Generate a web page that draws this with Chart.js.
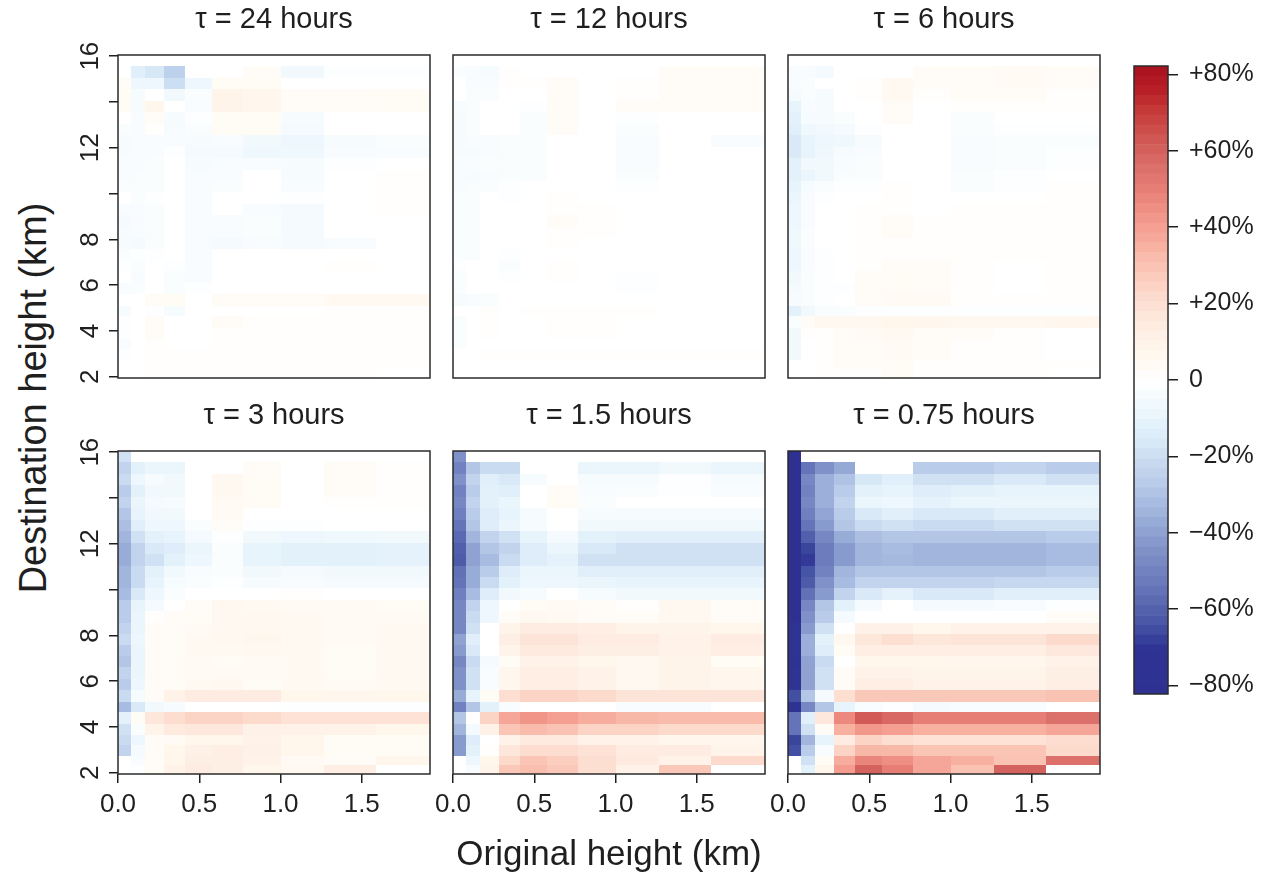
<!DOCTYPE html>
<html>
<head>
<meta charset="utf-8">
<script src="https://cdn.jsdelivr.net/npm/chart.js@4.4.0/dist/chart.umd.min.js"></script>
<style>
  body { margin: 0; background: #fff; width: 1270px; height: 875px; position: relative; overflow: hidden;
         font-family: "Liberation Sans", Arial, sans-serif; color: #1f1f1f; }
  canvas { position: absolute; }
  #ytitle { position: absolute; left: 33px; top: 398px; white-space: nowrap; font-size: 38px;
            transform: translate(-50%, -50%) rotate(-90deg); }
</style>
</head>
<body>
<div id="ytitle">Destination height (km)</div>
<script>
// bin edges (km)
const xEdges = [0, 0.08, 0.165, 0.28, 0.415, 0.58, 0.77, 1.0, 1.27, 1.59, 1.92];
const yEdges = [16.05, 15.58, 15.05, 14.55, 14.05, 13.55, 13.05, 12.55, 12.05, 11.55, 11.05, 10.55, 10.05, 9.55, 9.05,
                8.55, 8.05, 7.6, 7.1, 6.6, 6.1, 5.6, 5.1, 4.65, 4.15, 3.65, 3.2, 2.75, 2.35, 1.95];
const xTicks = [0, 0.5, 1.0, 1.5];
const yTicks = [2, 4, 6, 8, 10, 12, 14, 16];
const yTickLabels = [2, 4, 6, 8, 12, 16];
const colorTicks = [-80, -60, -40, -20, 0, 20, 40, 60, 80];
const panelTitles = ['τ = 24 hours', 'τ = 12 hours', 'τ = 6 hours', 'τ = 3 hours', 'τ = 1.5 hours', 'τ = 0.75 hours'];

// % change, rows from top (16 km) down to 2 km, columns = original height bins
const tau24 = [
  [0, null, null, null, null, null, null, null, null, null],
  [0, -13, -17, -25, null, null, 2, -6, -1, -1],
  [2, -8, -8, -20, -8, 3, 3, 0, 0, 0],
  [3, -4, 0, -6, -2, 9, 7, 2, 2, 3],
  [3, -4, 8, 0, -3, 9, 7, 2, 2, 3],
  [0, -3, 2, -4, -1, 3, 3, -4, 0, 0],
  [-2, -3, 1, -4, -2, 3, 3, -5, 0, 0],
  [-4, -3, -3, -3, -4, -3, -6, -8, -4, -2],
  [-4, -3, -3, -1, -5, -5, -7, -7, -3, -3],
  [-3, -3, -2, 0, -4, -3, -3, -4, -1, 0],
  [-3, -2, -2, 0, -3, -3, 0, -4, 0, 1],
  [-2, -2, -2, 0, -3, -2, 0, -3, 0, 1],
  [0, -2, -1, 0, -3, 0, 0, -1, 0, 1],
  [-3, -3, -2, 0, -3, 0, -3, -5, 0, 1],
  [-5, -3, -2, 0, -3, -3, -2, -5, 0, 0],
  [-4, -3, -2, 0, -3, -3, -2, -5, 0, 0],
  [-4, -5, -2, 0, -3, -5, -3, -5, -3, 0],
  [-2, -1, -1, 0, -3, 0, 0, 0, 0, 0],
  [-1, -2, 0, -1, -3, 0, 0, 0, 1, 0],
  [0, -3, 0, -2, -3, 0, 0, 0, 0, 0],
  [-3, -2, 0, -2, -1, 0, 0, 0, 0, 0],
  [0, 0, 3, 3, 0, 2, 2, 2, 5, 5],
  [-4, 0, -1, -4, 0, 0, 0, 0, 1, 1],
  [-1, 0, 2, 0, 0, 2, 1, 1, 1, 1],
  [-1, 0, 2, 0, 0, 1, 1, 1, 1, 1],
  [-3, 0, 1, 0, 0, 1, 1, 1, 1, 1],
  [-1, 0, 1, 1, 1, 1, 1, 1, 1, 1],
  [null, 0, 1, 1, 1, 1, 1, 1, 1, 1],
  [null, 0, 1, 1, 1, 1, 1, 1, 1, null]
];
const tau12 = [
  [0, null, null, null, null, null, null, null, null, null],
  [-2, -3, -4, 1, null, null, 0, 0, 2, 2],
  [0, -3, -3, 1, 1, 2, 0, 1, 2, 2],
  [0, -2, -2, 0, 0, 2, 0, 1, 2, 2],
  [-3, -2, 0, 0, -1, 2, 0, 2, 2, 2],
  [-4, -2, 0, 0, -2, 2, 0, -1, 0, 0],
  [-4, -2, 0, 0, -2, 2, 0, -2, 0, 0],
  [-4, -3, -3, -2, -2, 0, 0, -3, 0, -3],
  [-4, -4, -3, -2, -2, 0, 0, -3, 0, 0],
  [-3, -3, -2, -2, -2, 0, 0, -3, 0, 0],
  [-3, -4, -3, -2, -2, 0, 0, -2, 0, 0],
  [-3, -2, -2, -1, 0, 0, 0, -1, 0, 0],
  [-2, -2, 0, -1, 0, 1, 0, 0, 0, 0],
  [-2, -2, 0, 0, 0, 1, 1, 0, 0, 0],
  [-2, -2, 0, 0, 0, 2, 1, 0, 0, 0],
  [-2, -2, 0, 0, 0, 1, 1, 0, 0, 0],
  [-2, -2, 0, 0, 0, 1, 0, 0, 0, 0],
  [-2, -2, 0, -1, 0, 0, 0, 0, 0, 0],
  [-1, 0, 0, -2, 0, 1, 0, 0, 0, 0],
  [-2, 0, 0, -1, 0, 1, 0, -1, 0, 0],
  [-2, 0, 0, 0, 0, 0, 0, -1, 0, 0],
  [-4, -3, -2, 0, 0, 0, 0, 0, 0, 0],
  [0, 0, 1, 0, 1, 1, 1, 1, 0, 0],
  [-2, 0, 1, 0, 0, 1, 1, 0, 0, 0],
  [-2, 0, 1, 0, 0, 1, 1, 0, 0, 0],
  [-2, 0, 0, 0, 0, 0, 0, 0, 0, 0],
  [0, 0, 1, 1, 1, 1, 1, 1, 1, 1],
  [null, 0, 0, 0, 0, 0, 0, 0, 0, 0],
  [null, 0, 0, 0, 0, 0, 0, 0, 0, null]
];
const tau6 = [
  [0, null, null, null, null, null, null, null, null, null],
  [-3, -3, -5, 0, null, null, 2, 2, 4, 2],
  [-3, -2, 0, 0, 1, 5, 2, 2, 4, 2],
  [-5, -2, -4, 0, 1, 5, 1, 2, 2, 1],
  [-10, -3, -4, 0, 0, 2, 0, 1, 1, 1],
  [-12, -4, -4, -2, 0, 2, 0, -2, 0, 0],
  [-13, -7, -6, -5, -1, 0, 0, -2, -1, -1],
  [-16, -10, -8, -7, -4, 0, 0, -3, -2, -2],
  [-16, -10, -7, -4, -3, 0, 0, -3, -2, -1],
  [-12, -6, -6, -3, -2, 0, 0, -3, -2, -1],
  [-12, -9, -6, -2, -2, 0, 0, -2, -1, 0],
  [-10, -4, -2, -1, -1, 1, 0, -2, -1, 1],
  [-9, -3, -1, 0, 0, 1, 0, 0, 0, 1],
  [-8, -3, 0, 0, 1, 1, 0, 1, 1, 1],
  [-8, -3, 0, 0, 1, 2, 1, 1, 1, 1],
  [-7, -2, 0, 0, 1, 2, 1, 1, 1, 1],
  [-7, -2, 0, 0, 1, 1, 1, 1, 1, 1],
  [-8, -3, -1, 0, 1, 1, 1, 1, 1, 1],
  [-8, -3, -1, 0, 1, 2, 2, 1, 0, 1],
  [-6, -2, -1, 0, 2, 3, 2, 1, 0, 1],
  [-5, -2, -1, -1, 2, 3, 2, 1, 0, 1],
  [-4, -2, -1, 0, 2, 4, 4, 1, 1, 1],
  [-12, -6, -2, -2, -1, -1, -1, -1, -1, -1],
  [-2, 2, 6, 6, 6, 8, 7, 6, 6, 7],
  [-6, 1, 1, 2, 4, 5, 2, 2, 1, 0],
  [-6, 0, 1, 2, 2, 4, 2, 1, 1, 0],
  [-6, 0, 1, 2, 2, 4, 2, 1, 1, 0],
  [null, 0, 1, 2, 2, 3, 1, 1, 1, 1],
  [null, 0, 1, 1, 1, 3, 1, 1, 1, null]
];
const tau3 = [
  [-19, null, null, null, null, null, null, null, null, null],
  [-24, -12, -9, -9, null, null, 2, 0, 2, 1],
  [-21, -8, -4, -6, 0, 6, 3, 0, 2, 1],
  [-27, -12, -6, -6, 0, 6, 3, 0, 2, 1],
  [-24, -9, -5, -4, 0, 4, 3, 0, 1, 1],
  [-29, -10, -6, -6, 0, 4, 0, 0, 0, 0],
  [-31, -13, -8, -8, -2, 2, -1, -1, 0, 0],
  [-34, -19, -12, -10, -5, -1, -6, -8, -7, -6],
  [-37, -24, -16, -14, -9, -2, -10, -12, -12, -11],
  [-37, -24, -19, -12, -8, -2, -10, -12, -12, -11],
  [-34, -21, -12, -6, -3, -2, -6, -5, -6, -6],
  [-34, -21, -10, -4, -2, -1, -4, -3, -5, -5],
  [-32, -16, -8, -2, 0, 0, 0, 1, 0, 0],
  [-27, -10, -5, 0, 2, 6, 5, 4, 4, 3],
  [-27, -9, 1, 2, 3, 6, 6, 5, 4, 4],
  [-24, -9, 2, 2, 4, 6, 6, 5, 4, 5],
  [-21, -8, 2, 3, 5, 6, 7, 5, 4, 5],
  [-27, -9, 2, 3, 5, 5, 6, 5, 3, 5],
  [-29, -9, 2, 3, 4, 3, 4, 5, 3, 5],
  [-24, -9, 2, 3, 4, 4, 4, 5, 3, 5],
  [-27, -8, 2, 3, 5, 6, 3, 5, 4, 5],
  [-21, -4, 2, 10, 14, 14, 14, 8, 7, 8],
  [-32, -16, -6, -4, 0, 0, 0, -1, -1, -1],
  [-12, 3, 17, 21, 24, 24, 22, 19, 19, 19],
  [-19, -2, 9, 15, 16, 16, 11, 10, 10, 8],
  [-21, -8, 2, 4, 8, 8, 10, 8, 3, 3],
  [-24, -5, 2, 8, 11, 13, 11, 8, 3, 3],
  [null, -3, 2, 8, 12, 12, 10, 4, 2, 8],
  [null, -1, 3, 10, 14, 12, 8, 5, 13, null]
];
const tau1_5 = [
  [-45, null, null, null, null, null, null, null, null, null],
  [-50, -29, -21, -21, null, null, -9, -9, -6, -9],
  [-45, -24, -13, -16, -4, 0, -4, -4, -1, -4],
  [-50, -27, -12, -13, 0, 2, -3, -2, -1, -3],
  [-48, -24, -12, -9, 0, 3, -2, 0, 0, 0],
  [-51, -27, -14, -10, -4, 0, -4, -4, -4, -4],
  [-55, -29, -14, -9, -4, 0, -6, -6, -6, -6],
  [-58, -34, -24, -19, -10, -5, -12, -13, -13, -13],
  [-61, -40, -29, -24, -14, -9, -16, -19, -19, -19],
  [-62, -40, -32, -21, -14, -11, -19, -19, -19, -19],
  [-56, -37, -27, -14, -9, -9, -13, -13, -13, -13],
  [-55, -37, -21, -12, -8, -8, -9, -10, -10, -10],
  [-51, -32, -14, -6, -4, 0, -4, -6, -6, -6],
  [-48, -24, -8, 0, 3, 4, 2, 1, 6, 2],
  [-48, -21, -8, 2, 6, 5, 2, 2, 6, 2],
  [-48, -19, 0, 9, 14, 14, 13, 9, 9, 8],
  [-40, -13, 0, 12, 18, 18, 14, 14, 10, 14],
  [-42, -16, 0, 9, 15, 15, 12, 12, 10, 13],
  [-48, -21, -5, 3, 10, 10, 8, 6, 9, 3],
  [-45, -19, -3, 7, 13, 13, 10, 6, 9, 7],
  [-45, -19, -3, 7, 13, 13, 10, 6, 9, 7],
  [-37, -10, 3, 20, 24, 24, 22, 18, 18, 18],
  [-50, -29, -12, -3, 0, 0, 0, -3, -3, 0],
  [-29, 1, 24, 38, 43, 40, 36, 33, 32, 32],
  [-34, -5, 11, 29, 32, 30, 24, 24, 22, 22],
  [-42, -14, 0, 10, 15, 15, 10, 10, 7, 7],
  [-42, -12, 1, 17, 21, 21, 19, 14, 14, 9],
  [null, -8, 8, 22, 29, 26, 20, 15, 10, 22],
  [null, -3, 9, 28, 31, 28, 20, 10, 28, null]
];
const tau0_75 = [
  [-82, null, null, null, null, null, null, null, null, null],
  [-82, -55, -45, -38, null, null, -27, -27, -24, -27],
  [-82, -48, -36, -30, -17, -13, -19, -19, -16, -19],
  [-82, -50, -36, -27, -12, -10, -14, -12, -10, -10],
  [-82, -48, -36, -24, -9, -8, -11, -9, -9, -9],
  [-82, -51, -39, -27, -16, -13, -16, -16, -13, -13],
  [-82, -55, -42, -29, -21, -19, -21, -21, -19, -19],
  [-82, -61, -48, -37, -31, -29, -29, -29, -29, -27],
  [-82, -67, -52, -42, -34, -32, -34, -34, -34, -32],
  [-82, -69, -52, -42, -34, -33, -34, -34, -34, -32],
  [-82, -64, -50, -34, -29, -29, -29, -29, -29, -27],
  [-82, -62, -45, -32, -24, -24, -24, -24, -22, -22],
  [-82, -56, -42, -24, -16, -11, -16, -16, -13, -13],
  [-82, -48, -29, -12, -5, 0, -5, -5, -3, -1],
  [-80, -45, -27, -5, 0, 0, 0, 0, 0, 2],
  [-72, -42, -19, 0, 11, 11, 8, 10, 10, 10],
  [-70, -36, -12, 6, 17, 20, 17, 18, 18, 22],
  [-70, -36, -14, 3, 13, 13, 13, 13, 13, 16],
  [-78, -40, -21, 0, 8, 8, 8, 7, 7, 10],
  [-72, -40, -19, 2, 10, 10, 9, 9, 9, 12],
  [-72, -40, -19, 2, 13, 13, 10, 10, 10, 13],
  [-65, -29, -5, 20, 28, 28, 28, 28, 28, 30],
  [-78, -48, -29, -10, -3, -1, -5, -3, -3, 0],
  [-55, -13, 16, 47, 62, 58, 50, 50, 50, 55],
  [-55, -19, 2, 35, 42, 40, 35, 35, 35, 38],
  [-67, -34, -10, 14, 24, 20, 19, 19, 19, 21],
  [-65, -27, -3, 24, 33, 33, 29, 29, 29, 22],
  [null, -19, 3, 36, 48, 45, 38, 35, 30, 55],
  [null, -12, 8, 41, 60, 50, 38, 30, 60, null]
];

const INK = '#1f1f1f';
Chart.defaults.font.family = '"Liberation Sans", Arial, sans-serif';
Chart.defaults.color = INK;

// diverging palette
const stops = [
  [-82, '#2e3192'], [-70, '#2f3393'], [-67, '#3a469c'], [-64, '#4654a5'], [-59, '#5866b0'], [-54, '#6877ba'],
  [-48, '#7787c3'], [-43, '#8597cc'], [-38, '#95a9d6'], [-33, '#a5b9df'], [-28, '#b6c9e8'], [-22, '#c6d8ef'],
  [-17, '#d6e7f6'], [-12, '#e3f1fb'], [-7, '#eff8fd'], [0, '#ffffff'], [3, '#fffbf5'], [8, '#fff6ec'],
  [13.5, '#feede3'], [18.6, '#fde3d6'], [23.8, '#fcd5c7'], [29, '#fac5b5'], [34.2, '#f8b4a4'], [39.4, '#f5a193'],
  [44.6, '#f09085'], [49.8, '#e77f76'], [55, '#dc716b'], [60.2, '#d4615d'], [65.3, '#cd4e4b'], [70.5, '#c53a3a'],
  [75.7, '#b91f27'], [82, '#a8101d']
];
function hexRgb(h) { return [1, 3, 5].map(i => parseInt(h.substr(i, 2), 16)); }
function rampColor(v) {
  if (v <= stops[0][0]) return stops[0][1];
  for (let i = 1; i < stops.length; i++) {
    if (v <= stops[i][0]) {
      const [v0, c0] = stops[i - 1], [v1, c1] = stops[i];
      const t = (v - v0) / (v1 - v0), a = hexRgb(c0), b = hexRgb(c1);
      return 'rgb(' + a.map((x, k) => Math.round(x + (b[k] - x) * t)).join(',') + ')';
    }
  }
  return stops[stops.length - 1][1];
}

const heatmapPlugin = {
  id: 'heatmap',
  beforeDatasetsDraw(chart) {
    const {ctx, chartArea: a, scales: {x, y}} = chart;
    ctx.save();
    ctx.beginPath(); ctx.rect(a.left, a.top, a.width, a.height); ctx.clip();
    for (const d of chart.data.datasets[0].data) {
      const l = Math.round(x.getPixelForValue(d.x0)), r = Math.round(x.getPixelForValue(d.x1));
      const t = Math.round(y.getPixelForValue(d.y1)), b = Math.round(y.getPixelForValue(d.y0));
      ctx.fillStyle = rampColor(d.v);
      ctx.fillRect(l, t, r - l, b - t);
    }
    ctx.restore();
  }
};
const boxPlugin = {
  id: 'box',
  afterDraw(chart) {
    const {ctx, chartArea: a} = chart;
    ctx.save();
    ctx.strokeStyle = '#2b2b2b'; ctx.lineWidth = 1.5;
    ctx.strokeRect(a.left, a.top, a.width, a.height);
    ctx.restore();
  }
};
// R-style y labels, parallel to the axis
const yLabelPlugin = {
  id: 'ylabels',
  afterDraw(chart) {
    const {ctx, chartArea: a, scales: {y}} = chart;
    ctx.save();
    ctx.fillStyle = INK;
    ctx.font = '26px "Liberation Sans", Arial, sans-serif';
    ctx.textAlign = 'center'; ctx.textBaseline = 'bottom';
    for (const v of yTickLabels) {
      ctx.save();
      ctx.translate(a.left - 14, y.getPixelForValue(v));
      ctx.rotate(-Math.PI / 2);
      ctx.fillText(String(v), 0, 0);
      ctx.restore();
    }
    ctx.restore();
  }
};

const PW = 312, PH = 323;
const panelSlots = [[118, 55], [453, 55], [788, 55], [118, 451], [453, 451], [788, 451]];
const panelValues = [tau24, tau12, tau6, tau3, tau1_5, tau0_75];

panelValues.forEach((values, i) => {
  const [left, top] = panelSlots[i];
  const col = i % 3, bottomRow = i >= 3, firstCol = col === 0;
  const xAxisH = bottomRow ? 120 : 10;
  const canvas = document.createElement('canvas');
  canvas.width = 70 + PW + 10;
  canvas.height = 55 + PH + xAxisH;
  canvas.style.left = (left - 70) + 'px';
  canvas.style.top = (top - 55) + 'px';
  document.body.appendChild(canvas);

  const cells = [];
  values.forEach((row, r) => row.forEach((v, c) => {
    if (v === null) return;
    cells.push({x: (xEdges[c] + xEdges[c + 1]) / 2, y: (yEdges[r] + yEdges[r + 1]) / 2,
                x0: xEdges[c], x1: xEdges[c + 1], y0: yEdges[r + 1], y1: yEdges[r], v: v});
  }));

  new Chart(canvas, {
    type: 'scatter',
    data: {datasets: [{data: cells, pointRadius: 0, pointHoverRadius: 0}]},
    options: {
      responsive: false,
      animation: false,
      events: [],
      layout: {padding: {top: 2.4, right: 10, bottom: 0, left: 0}},
      plugins: {
        legend: {display: false},
        tooltip: {enabled: false},
        title: {display: true, text: panelTitles[i], fullSize: false, color: INK,
                font: {size: 29, weight: 'normal'}, padding: {top: 0, bottom: 17.8}}
      },
      scales: {
        x: {
          type: 'linear', min: 0, max: xEdges[xEdges.length - 1],
          afterFit: s => { s.height = xAxisH; },
          afterBuildTicks: s => { s.ticks = xTicks.map(v => ({value: v})); },
          grid: {display: bottomRow, drawOnChartArea: false, tickLength: 9, color: INK, lineWidth: 1.5},
          border: {display: false},
          ticks: {display: bottomRow, autoSkip: false, maxRotation: 0, padding: 6, color: INK,
                  font: {size: 26}, callback: v => Number(v).toFixed(1)},
          title: {display: bottomRow && col === 1, text: 'Original height (km)', color: INK,
                  font: {size: 35}, padding: {top: 0, bottom: 18}}
        },
        y: {
          type: 'linear', min: yEdges[yEdges.length - 1], max: yEdges[0],
          afterFit: s => { s.width = 70; },
          afterBuildTicks: s => { s.ticks = yTicks.map(v => ({value: v})); },
          grid: {display: firstCol, drawOnChartArea: false, tickLength: 9, color: INK, lineWidth: 1.5},
          border: {display: false},
          ticks: {display: false}
        }
      }
    },
    plugins: firstCol ? [heatmapPlugin, boxPlugin, yLabelPlugin] : [heatmapPlugin, boxPlugin]
  });
});

// colour bar
const cbMin = -82.2, cbMax = 82.2, bandCount = 64;
const cbCanvas = document.createElement('canvas');
cbCanvas.width = 150; cbCanvas.height = 680;
cbCanvas.style.left = '1120px'; cbCanvas.style.top = '40px';
document.body.appendChild(cbCanvas);
const step = (cbMax - cbMin) / bandCount;
const bandSets = [];
for (let k = 0; k < bandCount; k++) {
  const lo = cbMin + k * step, hi = lo + step;
  bandSets.push({data: [[lo, hi]], backgroundColor: rampColor((lo + hi) / 2), borderWidth: 0,
                 barPercentage: 1, categoryPercentage: 1, grouped: false});
}
new Chart(cbCanvas, {
  type: 'bar',
  data: {labels: [''], datasets: bandSets},
  options: {
    responsive: false,
    animation: false,
    events: [],
    layout: {padding: {top: 22, left: 14, bottom: 24, right: 0}},
    plugins: {legend: {display: false}, tooltip: {enabled: false}},
    scales: {
      x: {display: false},
      y: {
        position: 'right', min: cbMin, max: cbMax,
        afterFit: s => { s.width = 102; },
        afterBuildTicks: s => { s.ticks = colorTicks.map(v => ({value: v})); },
        grid: {drawOnChartArea: false, tickLength: 10, color: INK, lineWidth: 1.5},
        border: {display: false},
        ticks: {padding: 11, color: INK, font: {size: 25},
                callback: v => v > 0 ? '+' + v + '%' : v < 0 ? '\u2212' + (-v) + '%' : '0'}
      }
    }
  },
  plugins: [boxPlugin]
});
</script>
</body>
</html>
